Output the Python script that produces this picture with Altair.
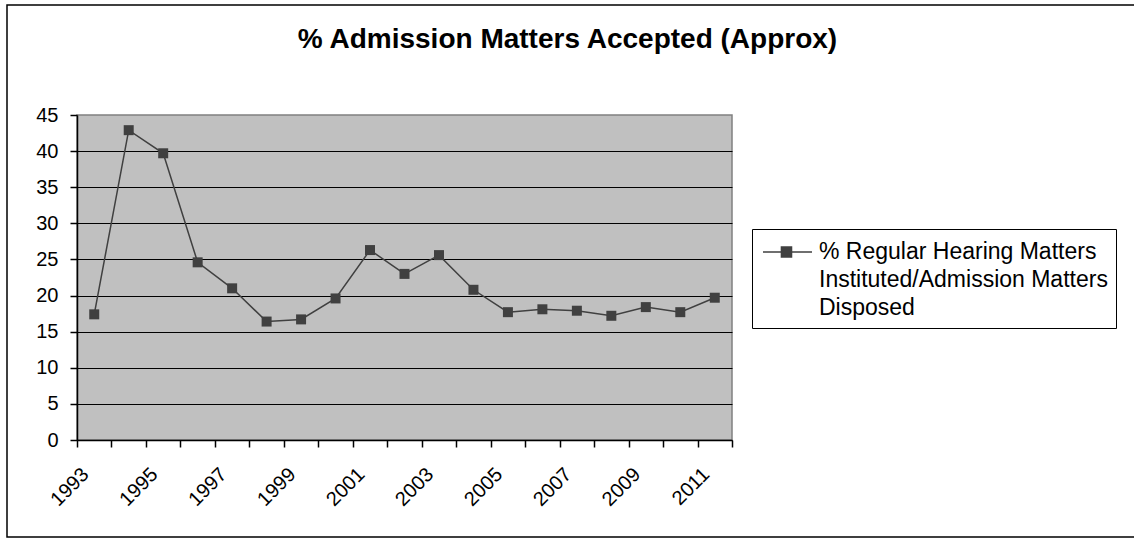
import altair as alt
import pandas as pd

# Share of admission matters that went on to regular hearing, by year
years = list(range(1993, 2012))
pct_accepted = [17.4, 42.9, 39.7, 24.6, 21.0, 16.4, 16.7, 19.6, 26.3, 23.0,
                25.6, 20.8, 17.7, 18.1, 17.9, 17.2, 18.4, 17.7, 19.7]
series_name = "% Regular Hearing Matters|Instituted/Admission Matters|Disposed"
title_text = "% Admission Matters Accepted (Approx)"

y_ticks = list(range(0, 50, 5))
x_label_years = list(range(1993, 2012, 2))
x_tick_edges = [y - 0.5 for y in range(1993, 2013)]

df = pd.DataFrame({"year": years, "pct": pct_accepted, "series": series_name})

FONT = "Liberation Sans"
INK = "#404040"
PLOT_W, PLOT_H = 655, 325

x_scale = alt.Scale(domain=[1992.5, 2011.5], nice=False, zero=False)

# Axis carrying only the category boundary ticks
x_tick_axis = alt.Axis(
    title=None,
    orient="bottom",
    values=x_tick_edges,
    labels=False,
    grid=False,
    domainColor="black",
    domainWidth=1.5,
    tickColor="black",
    tickSize=7,
    tickWidth=1.5,
)

# Axis carrying only the (rotated) year labels
x_label_axis = alt.Axis(
    title=None,
    orient="bottom",
    values=x_label_years,
    format="d",
    ticks=False,
    tickSize=0,
    domain=False,
    grid=False,
    labelAngle=315,
    labelAlign="right",
    labelBaseline="middle",
    labelOffset=-9,
    labelPadding=31,
    labelFont=FONT,
    labelFontSize=20,
    labelColor="black",
    labelOverlap=False,
    labelFlush=False,
    labelBound=False,
)

y_enc = alt.Y(
    "pct:Q",
    scale=alt.Scale(domain=[0, 45], nice=False),
    axis=alt.Axis(
        title=None,
        values=y_ticks,
        grid=True,
        gridColor="black",
        gridWidth=1.2,
        gridOpacity={"condition": {"test": "datum.value == 45", "value": 0}, "value": 1},
        domainColor="black",
        domainWidth=1.5,
        tickColor="black",
        tickSize=7,
        tickWidth=1.5,
        labelPadding=12,
        labelFont=FONT,
        labelFontSize=20,
        labelColor="black",
    ),
)

color_enc = alt.Color(
    "series:N",
    scale=alt.Scale(range=[INK]),
    legend=alt.Legend(
        title=None,
        orient="none",
        legendX=675,
        legendY=114,
        padding=8,
        strokeColor="black",
        fillColor="white",
        # line with a square marker, drawn in 14px units
        symbolType="M-0.857,0H2.643M0.46,-0.357H1.18V0.357H0.46Z",
        symbolSize=784,
        symbolStrokeWidth=1.5,
        symbolFillColor=INK,
        symbolStrokeColor=INK,
        symbolOpacity=1,
        labelExpr="split(datum.label, '|')",
        labelFont=FONT,
        labelFontSize=23,
        labelColor="black",
        labelLimit=600,
        labelOffset=29,
    ),
)

line = alt.Chart(df).mark_line(strokeWidth=1.5).encode(
    x=alt.X("year:Q", scale=x_scale, axis=x_tick_axis),
    y=y_enc,
    color=color_enc,
)
points = alt.Chart(df).mark_point(
    shape="square", filled=True, size=100, opacity=1, color=INK
).encode(
    x=alt.X("year:Q", scale=x_scale, axis=x_label_axis),
    y=y_enc,
)

# Outer chart frame
frame = alt.Chart(pd.DataFrame({"k": [0]})).mark_rect(
    fill=None, stroke="black", strokeWidth=1.5
).encode(
    x=alt.value(-70), x2=alt.value(PLOT_W + 420),
    y=alt.value(-110), y2=alt.value(PLOT_H + 97),
)

chart = alt.layer(frame, line, points).resolve_axis(x="independent").properties(
    width=PLOT_W,
    height=PLOT_H,
    title=alt.TitleParams(
        title_text,
        font=FONT,
        fontSize=28,
        fontWeight="bold",
        color="black",
        anchor="middle",
        frame="group",
        dx=163,
        baseline="alphabetic",
        offset=-72,
    ),
    autosize=alt.AutoSizeParams(type="none"),
    padding={"left": 77, "top": 115, "right": 402, "bottom": 98},
    background="white",
).configure(
    style={"guide-label": {"lineHeight": 28}},
).configure_view(
    fill="#C0C0C0",
    stroke="#808080",
    strokeWidth=1.5,
)

chart.save("out.html", embed_options={"renderer": "svg", "actions": False})
